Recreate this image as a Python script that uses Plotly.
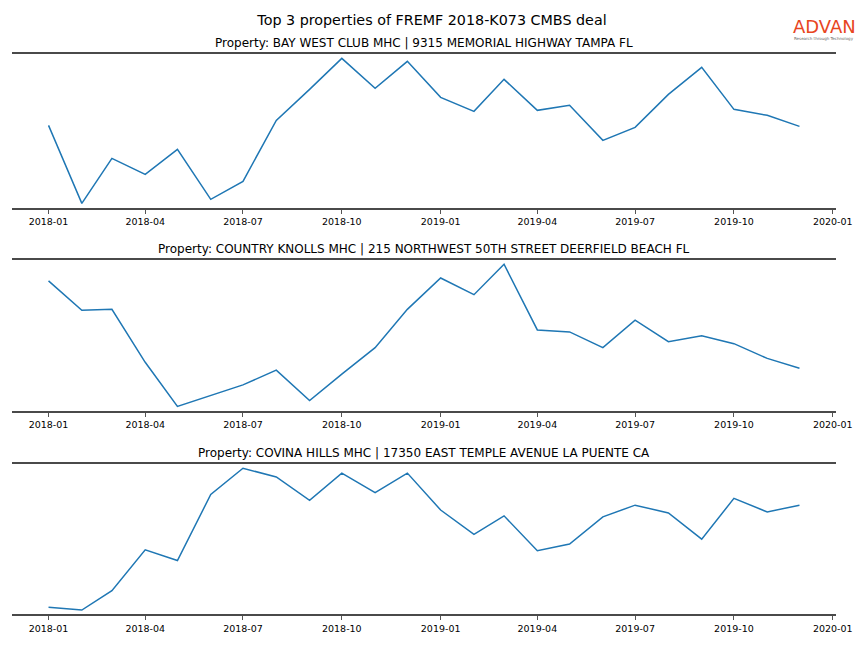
import plotly.graph_objects as go
import pandas as pd

months = pd.date_range("2018-01-01", "2019-12-01", freq="MS")

titles = [
    "Property: BAY WEST CLUB MHC | 9315 MEMORIAL HIGHWAY TAMPA FL",
    "Property: COUNTRY KNOLLS MHC | 215 NORTHWEST 50TH STREET DEERFIELD BEACH FL",
    "Property: COVINA HILLS MHC | 17350 EAST TEMPLE AVENUE LA PUENTE CA",
]

bay_west = [94, 16, 61, 45, 70, 20, 38, 99, 130, 161, 131, 158, 122, 108, 140, 109,
            114, 79, 92, 125, 152, 110, 104, 93]
country_knolls = [140, 110, 111, 57, 12, 23, 34, 49, 18, 45, 72, 111, 143, 126, 157, 90,
                  88, 72, 100, 78, 84, 76, 61, 51]
covina_hills = [10, 7, 27, 69, 58, 126, 153, 144, 120, 148, 128, 148, 110, 85, 104, 68,
                75, 103, 115, 107, 80, 122, 108, 115]

series = [bay_west, country_knolls, covina_hills]

main_title = "Top 3 properties of FREMF 2018-K073 CMBS deal"
logo_text = "ADVAN"
logo_tagline = "Research through Technology"

x_dom = [12 / 864, 836 / 864]
y_doms = [
    [1 - 207.7 / 648, 1 - 54 / 648],
    [1 - 410.7 / 648, 1 - 260 / 648],
    [1 - 614.3 / 648, 1 - 464 / 648],
]

fig = go.Figure()
annotations = []
for i, (vals, ttl, yd) in enumerate(zip(series, titles, y_doms)):
    n = i + 1
    xa = "x" if n == 1 else f"x{n}"
    ya = "y" if n == 1 else f"y{n}"
    fig.add_trace(go.Scatter(x=months, y=vals, mode="lines",
                             line=dict(color="#1f77b4", width=1.5),
                             xaxis=xa, yaxis=ya, showlegend=False,
                             hoverinfo="x+y"))
    lo, hi = min(vals), max(vals)
    pad = (hi - lo) * 0.03
    xkey = "xaxis" if n == 1 else f"xaxis{n}"
    ykey = "yaxis" if n == 1 else f"yaxis{n}"
    fig.layout[xkey] = dict(
        domain=x_dom, anchor=ya, type="date",
        range=["2017-11-28", "2020-01-04"],
        tick0="2018-01-01", dtick="M3", tickformat="%Y-%m",
        showgrid=False, zeroline=False,
        showline=True, linecolor="#4a4a4a", linewidth=2, mirror=True,
        ticks="outside", ticklen=4, tickwidth=1, tickcolor="#555555",
        tickfont=dict(family="DejaVu Sans", size=9.5, color="#000000"),
    )
    fig.layout[ykey] = dict(
        domain=yd, anchor=xa, range=[lo - pad, hi + pad],
        showgrid=False, zeroline=False, showline=False,
        showticklabels=False, ticks="",
    )
    annotations.append(dict(
        text=ttl, xref="paper", yref="paper", x=(x_dom[0] + x_dom[1]) / 2,
        y=yd[1], yanchor="bottom", xanchor="center", yshift=2, showarrow=False,
        font=dict(family="DejaVu Sans", size=12, color="#000000"),
    ))

annotations.append(dict(
    text=logo_text, xref="paper", yref="paper", x=824 / 864, y=1 - 27 / 648,
    xanchor="center", yanchor="middle", showarrow=False,
    font=dict(family="DejaVu Sans", size=18, color="#E8461E"),
))
annotations.append(dict(
    text=logo_tagline, xref="paper", yref="paper",
    x=824 / 864, y=1 - 38.5 / 648, xanchor="center", yanchor="middle", showarrow=False,
    font=dict(family="DejaVu Sans", size=4, color="#666666"),
))

fig.update_layout(
    width=864, height=648, autosize=False,
    margin=dict(l=0, r=0, t=0, b=0, autoexpand=False),
    paper_bgcolor="white", plot_bgcolor="white",
    title=dict(text=main_title, x=0.5, xanchor="center", y=1 - 20 / 648,
               yanchor="middle",
               font=dict(family="DejaVu Sans", size=14.3, color="#000000")),
    annotations=annotations,
)

post = """
document.body.style.margin = '0';
document.body.style.padding = '0';
document.body.style.overflow = 'hidden';
var gd = document.getElementById('{plot_id}');
Plotly.relayout(gd, {width: 864, height: 648});
"""

fig.write_html("out.html", config={"responsive": False, "displayModeBar": False},
               post_script=post)
